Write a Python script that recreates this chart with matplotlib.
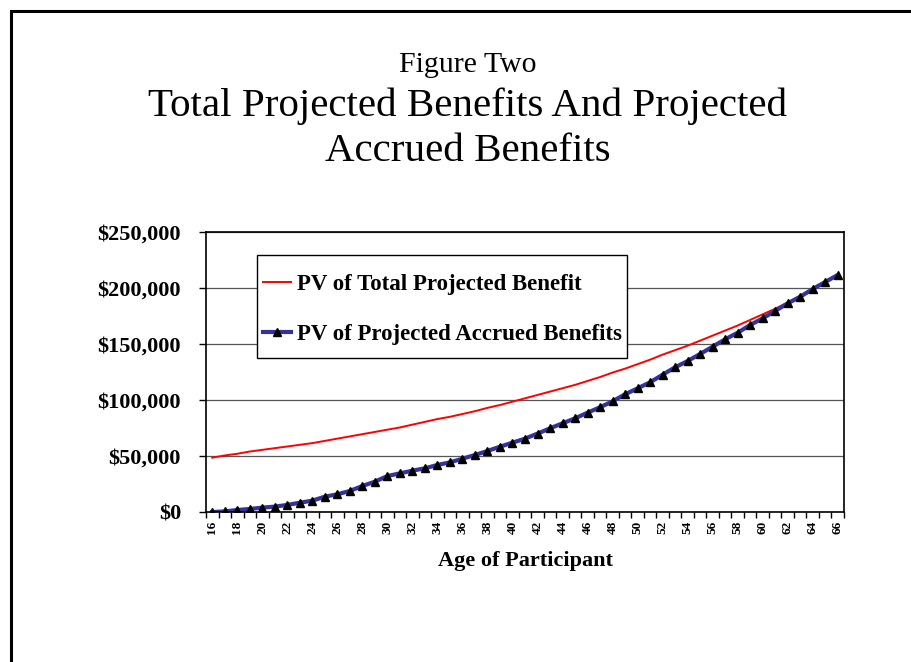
# %% Figure Two: total projected vs projected accrued benefits by age
import numpy as np
import matplotlib.pyplot as plt
from matplotlib.patches import Rectangle
from matplotlib.ticker import FuncFormatter, FixedLocator

plt.rcParams["font.family"] = ["Liberation Serif", "DejaVu Serif"]

# %% Data
ages = list(range(16, 67))
total_projected = [
    48.5, 50.5, 52.0, 54.0, 55.5, 57.0, 58.5, 60.0, 61.5, 63.5,
    65.5, 67.5, 69.5, 71.5, 73.5, 75.5, 78.0, 80.5, 83.0, 85.0,
    87.5, 90.0, 93.0, 95.5, 98.5, 101.5, 104.5, 107.5, 110.5, 113.5,
    117.0, 120.5, 124.5, 128.0, 132.0, 136.0, 140.5, 144.5, 148.5, 153.0,
    157.5, 162.0, 166.5, 171.5, 176.5, 181.5, 187.0, 193.0, 199.0, 205.5,
    211.6,
]
accrued = [
    0.0, 0.5, 1.8, 2.7, 3.9, 4.8, 6.3, 8.3, 10.1, 13.7,
    15.8, 18.8, 23.2, 27.1, 32.1, 34.5, 36.9, 39.0, 42.0, 44.3,
    47.6, 50.9, 54.5, 58.3, 61.9, 65.5, 70.0, 74.7, 79.2, 83.6,
    88.7, 93.5, 98.8, 105.1, 110.4, 115.8, 122.6, 129.2, 134.8, 141.1,
    147.6, 154.2, 160.1, 167.0, 172.9, 179.5, 186.3, 192.2, 199.1, 205.4,
    211.6,
]
total_projected = np.array(total_projected) * 1000
accrued = np.array(accrued) * 1000
x = np.arange(len(ages))

# %% Plot
fig = plt.figure(figsize=(9.11, 6.62), dpi=100)
ax = fig.add_axes([206 / 911, 1 - 512 / 662, 638 / 911, 280 / 662])

# outer page frame
fig.patches.append(Rectangle((11 / 911, -0.05), 1.2, 1 - 11 / 662 + 0.05,
                             transform=fig.transFigure, fill=False,
                             edgecolor="black", linewidth=2.2))

ax.plot(x, total_projected, color="red", lw=1.4,
        label="PV of Total Projected Benefit")
ax.plot(x, accrued, color="#333399", lw=3.0, marker="^", ms=5.5,
        mfc="black", mec="black", label="PV of Projected Accrued Benefits")

ax.set_xlim(-0.5, len(ages) - 0.5)
ax.set_ylim(0, 250000)
ax.set_yticks(np.arange(0, 250001, 50000))
ax.yaxis.set_major_formatter(FuncFormatter(lambda v, p: f"${v:,.0f}"))
ax.grid(axis="y", color="#555555", lw=0.9)
ax.set_axisbelow(True)

ax.xaxis.set_major_locator(FixedLocator(x[::2]))
ax.set_xticklabels([str(a) for a in ages[::2]], rotation=90,
                   fontsize=9.5, fontweight="bold")
ax.xaxis.set_minor_locator(FixedLocator(np.arange(-0.5, len(ages), 1)))
ax.tick_params(axis="x", which="major", length=0, pad=6)
ax.tick_params(axis="x", which="minor", length=4, width=1)
ax.tick_params(axis="y", length=5, width=1, pad=13, labelsize=16)
for lab in ax.get_yticklabels():
    lab.set_fontweight("bold")
for s in ax.spines.values():
    s.set_linewidth(1.2)

ax.set_xlabel("Age of Participant", fontsize=16, fontweight="bold",
              labelpad=12.5)

# legend box drawn separately so the padding can differ by direction
ax.add_patch(Rectangle((51 / 638, 154 / 280), 370 / 638, 103 / 280,
                       transform=ax.transAxes, facecolor="white",
                       edgecolor="black", lw=1.0, zorder=4))
leg = ax.legend(loc="upper left", bbox_to_anchor=(57 / 638, 238 / 280),
                borderaxespad=0, borderpad=0, frameon=False,
                handlelength=1.22, handletextpad=0.26, labelspacing=1.27,
                prop={"size": 16.5, "weight": "bold"})
leg.set_zorder(5)

fig.text(0.513, 1 - 65 / 662, "Figure Two", ha="center", va="center",
         fontsize=21.5)
fig.text(0.513, 1 - 106 / 662, "Total Projected Benefits And Projected",
         ha="center", va="center", fontsize=29.5)
fig.text(0.513, 1 - 151 / 662, "Accrued Benefits", ha="center",
         va="center", fontsize=29.5)

fig.savefig("out.png", dpi=100)
